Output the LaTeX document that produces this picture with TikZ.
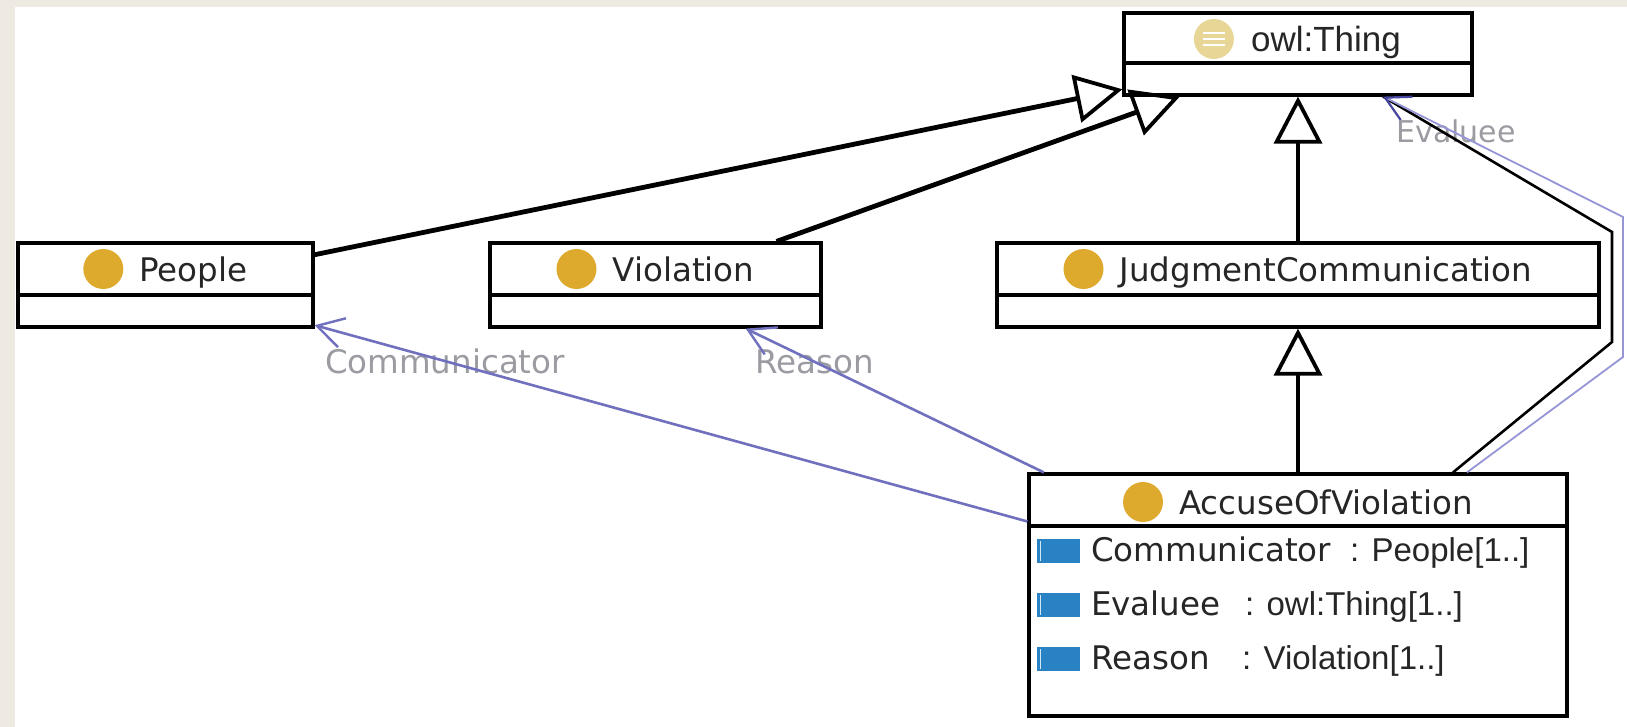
\documentclass[tikz,border=0pt]{standalone}
\usepackage{fontspec}
\setmainfont{DejaVu Sans}
\newfontfamily\typefont{Liberation Sans}
\usetikzlibrary{arrows.meta,calc}
\definecolor{bgtex}{RGB}{238,234,226}
\definecolor{umlblue}{RGB}{112,112,190}
\definecolor{umlbluedark}{RGB}{70,70,160}
\definecolor{evblue}{RGB}{150,150,215}
\definecolor{iconyellow}{RGB}{222,170,45}
\definecolor{thingicon}{RGB}{232,214,150}
\definecolor{propblue}{RGB}{40,130,195}
\definecolor{labelgray}{RGB}{155,155,162}
\begin{document}
\begin{tikzpicture}[x=1pt,y=-1pt,
  umlbox/.style={draw=black, line width=3.2pt, fill=white, rectangle, inner sep=0pt},
  divider/.style={line width=3.2pt},
  hdr/.style={anchor=base, inner sep=0pt, font=\fontsize{32.5}{38}\selectfont, text=black!85},
  clsicon/.style={circle, fill=iconyellow, minimum size=40pt, inner sep=0pt},
  propicon/.style={rectangle, fill=propblue, minimum width=43pt, minimum height=24pt, inner sep=0pt},
  pname/.style={anchor=base west, inner sep=0pt, font=\fontsize{32.5}{38}\selectfont, text=black!85},
  ptype/.style={anchor=base west, inner sep=0pt, font=\typefont\fontsize{33}{38}\selectfont, text=black!85},
  lbl/.style={inner sep=0pt, font=\fontsize{32.5}{38}\selectfont, text=labelgray},
  gen/.style={line width=4.8pt, -{Triangle[open, length=47pt, width=48pt, line width=3.8pt]}},
  assoc/.style={umlblue, line width=2.6pt, -{Straight Barb[length=26pt, width=30pt, line width=2.4pt]}}
]
\useasboundingbox (0,0) rectangle (1627,727);
\fill[bgtex] (0,0) rectangle (1627,727);
\fill[white] (15,7) rectangle (1627,727);

% ---- boxes ----
\node[umlbox, minimum width=348pt, minimum height=82pt] (owl) at (1298,54) {};
\draw[divider] (owl.west |- 0,63) -- (owl.east |- 0,63);
\node[umlbox, minimum width=295pt, minimum height=84pt] (people) at (165.5,285) {};
\draw[divider] (people.west |- 0,295) -- (people.east |- 0,295);
\node[umlbox, minimum width=331pt, minimum height=84pt] (violation) at (655.5,285) {};
\draw[divider] (violation.west |- 0,295) -- (violation.east |- 0,295);
\node[umlbox, minimum width=602pt, minimum height=84pt] (jc) at (1298,285) {};
\draw[divider] (jc.west |- 0,295) -- (jc.east |- 0,295);
\node[umlbox, minimum width=538pt, minimum height=242pt] (accuse) at (1298,595) {};
\draw[divider] (accuse.west |- 0,526) -- (accuse.east |- 0,526);

% ---- headers ----
\node[hdr, font=\typefont\fontsize{35}{40}\selectfont] (owl-l) at (1326,52) {owl:Thing};
\node[circle, fill=thingicon, minimum size=40pt, inner sep=0pt] (owl-ic) at ($(owl-l.base west)+(-37,-13)$) {};
\foreach \dy in {-6,0,6}
  \draw[white, line width=1.6pt] ($(owl-ic.center)+(-11,\dy)$) -- ($(owl-ic.center)+(11,\dy)$);

\node[hdr] (people-l) at (193.5,281) {People};
\node[clsicon] (people-ic) at ($(people-l.base west)+(-36,-12)$) {};
\node[hdr] (violation-l) at (683.5,281) {Violation};
\node[clsicon] (violation-ic) at ($(violation-l.base west)+(-36,-12)$) {};
\node[hdr] (jc-l) at (1326,281) {JudgmentCommunication};
\node[clsicon] (jc-ic) at ($(jc-l.base west)+(-36,-12)$) {};
\node[hdr] (accuse-l) at (1326,514) {AccuseOfViolation};
\node[clsicon] (accuse-ic) at ($(accuse-l.base west)+(-36,-12)$) {};

% ---- properties ----
\foreach \n/\b in {1/561,2/615,3/669}{
  \node[propicon] (pi\n) at (1058.5,{\b-10}) {};
  \draw[white!80!propblue, line width=1.2pt] ($(pi\n.north west)+(4,2)$) -- ($(pi\n.south west)+(4,-2)$);
}
\node[pname] (pn1) at (1091,561) {Communicator};
\node[ptype] (pt1) at (1350,561) {: People[1..]};
\node[pname] (pn2) at (1091,615) {Evaluee};
\node[ptype] (pt2) at (1245,615) {: owl:Thing[1..]};
\node[pname] (pn3) at (1091,669) {Reason};
\node[ptype] (pt3) at (1242,669) {: Violation[1..]};

% ---- labels ----
\node[lbl] (l-comm) at (445,361) {Communicator};
\node[lbl] (l-reason) at (815,362) {Reason};
\node[lbl, font=\fontsize{30}{36}\selectfont] (l-evaluee) at (1456,131) {Evaluee};

% ---- generalisations ----
\draw[gen] (people) -- (owl);
\draw[gen] (violation) -- (owl);
\draw[gen] (jc) -- (owl);
\draw[gen] (accuse) -- (jc);

% ---- associations ----
\draw[assoc] (accuse) -- (people);
\draw[assoc] (accuse) -- (violation);
\coordinate (evb1) at (1612,342);
\coordinate (evb2) at (1612,232);
\coordinate (evu1) at (1623,357);
\coordinate (evu2) at (1623,217);
\draw[black, line width=2.6pt] ([xshift=155pt]accuse.north) -- (evb1) -- (evb2) -- ([xshift=85pt]owl.south);
\draw[evblue, line width=1.8pt, -{Straight Barb[length=24pt, width=26pt, line width=2.2pt, color=umlbluedark]}] ([xshift=169pt]accuse.north) -- (evu1) -- (evu2) -- ([xshift=85pt]owl.south);
\end{tikzpicture}
\end{document}
